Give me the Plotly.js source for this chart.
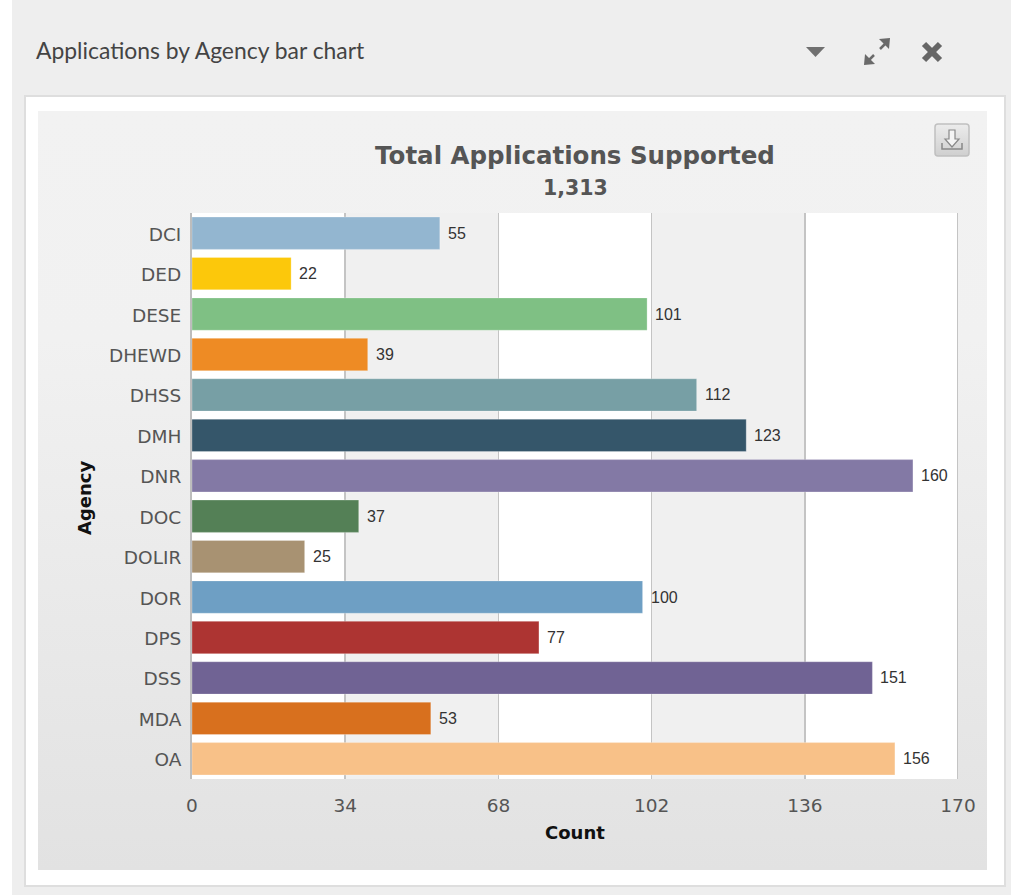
<!DOCTYPE html>
<html>
<head>
<meta charset="utf-8">
<script src="https://cdn.plot.ly/plotly-3.0.1.min.js"></script>
<style>
html,body{margin:0;padding:0;width:1011px;height:895px;overflow:hidden;background:#fff}
.abs{position:absolute}
#page{left:12px;top:0;width:999px;height:895px;background:#eeeeee}
#panel{left:24px;top:95px;width:978px;height:788px;background:#fff;border:2px solid #dedede;box-sizing:content-box}
#inner{left:38px;top:111px;width:949px;height:759px;background:linear-gradient(#f2f2f2,#f1f1f1 30%,#e2e2e2)}
#head{left:36px;top:37px;font:22.9px/26px Lato,sans-serif;color:#444;letter-spacing:0}
#chart{left:0;top:0;width:1011px;height:895px}
</style>
</head>
<body>
<div class="abs" id="page"></div>
<div class="abs" id="panel"></div>
<div class="abs" id="inner"></div>
<div class="abs" id="head">Applications by Agency bar chart</div>
<svg class="abs" style="left:800px;top:30px" width="160" height="45" viewBox="0 0 160 45">
  <polygon points="6,17 25,17 15.500,27" fill="#707070"/>
  <g stroke="#6a6a6a" stroke-width="2.500" fill="none"><line x1="68" y1="31" x2="74" y2="25"/><line x1="80" y1="19" x2="86" y2="13"/></g>
  <polygon points="64,35 65,24 75,34" fill="#6a6a6a"/>
  <polygon points="90,8 89,19 79,9" fill="#6a6a6a"/>
  <g stroke="#666" stroke-width="6"><line x1="124" y1="14" x2="140" y2="30"/><line x1="140" y1="14" x2="124" y2="30"/></g>
</svg>
<div class="abs" id="chart"></div>
<svg class="abs" style="left:933px;top:122px" width="38" height="36" viewBox="0 0 38 36">
  <defs><linearGradient id="b" x1="0" y1="0" x2="0" y2="1"><stop offset="0" stop-color="#ececec"/><stop offset="1" stop-color="#cfcfcf"/></linearGradient></defs>
  <rect x="2" y="2" width="34" height="32" rx="3" fill="url(#b)" stroke="#c0c0c0" stroke-width="1.500"/>
  <path d="M16 8h6v9h4l-7 8-7-8h4z" fill="#f4f4f4" stroke="#888" stroke-width="1.200"/>
  <path d="M9 21v6h20v-6" fill="none" stroke="#888" stroke-width="1.500"/>
</svg>
<script>
var agencies = ["DCI","DED","DESE","DHEWD","DHSS","DMH","DNR","DOC","DOLIR","DOR","DPS","DSS","MDA","OA"];
var counts = [55,22,101,39,112,123,160,37,25,100,77,151,53,156];
var barColors = ["#93b6d0","#fcc80b","#7fc084","#ee8b24","#779fa5","#35566a","#8379a5","#548056","#a89272","#6e9fc4","#ad3432","#706394","#d8701e","#f8c188"];
var xTicks = [0,34,68,102,136,170];
var bandStarts = [34,102];
var bandWidth = 34;
var axisMax = 170;

var W = 1011, H = 895, L = 192, R = 958, T = 213, B = 779;
var shapes = bandStarts.map(function(s){
  return {type:"rect",layer:"below",xref:"x",yref:"paper",x0:s,x1:s+bandWidth,y0:0,y1:1,fillcolor:"#f0f0f0",line:{width:0}};
});
shapes.push({type:"line",layer:"above",xref:"x",yref:"paper",x0:axisMax,x1:axisMax,y0:0,y1:1,line:{color:"#c4c4c4",width:2}});
var FONT = "'DejaVu Sans',Verdana,sans-serif";
var LABEL = "'Liberation Sans',Arial,sans-serif";
var trace = {
  type:"bar",orientation:"h",y:agencies,x:counts,
  marker:{color:barColors,line:{color:"rgba(255,255,255,0.25)",width:1}},
  textposition:"none",hoverinfo:"y+x"
};
var valueNotes = agencies.map(function(a,i){
  return {xref:"x",yref:"y",x:counts[i],y:a,xanchor:"left",yanchor:"middle",xshift:6,yshift:0,showarrow:false,
    text:String(counts[i]),font:{family:LABEL,size:16,color:"#333"}};
});
var layout = {
  width:W,height:H,showlegend:false,
  paper_bgcolor:"rgba(0,0,0,0)",plot_bgcolor:"#ffffff",
  margin:{l:L,r:W-R,t:T,b:H-B,pad:0},
  bargap:0.2,shapes:shapes,
  font:{family:FONT,color:"#555"},
  title:{text:"<b>Total Applications Supported</b>",font:{family:FONT,size:24.500,color:"#555"},x:(L+R)/2/W,xanchor:"center",y:1-155/H,yanchor:"middle"},
  xaxis:{range:[0,axisMax],tickmode:"array",tickvals:xTicks,ticktext:xTicks.map(String),showgrid:true,gridcolor:"#c4c4c4",gridwidth:1.500,zeroline:false,showline:false,ticks:"outside",ticklen:10,tickcolor:"rgba(0,0,0,0)",tickfont:{family:FONT,size:18.500,color:"#555"}},
  yaxis:{type:"category",categoryorder:"array",categoryarray:agencies,autorange:"reversed",showgrid:false,zeroline:false,showline:true,linecolor:"#bdbdbd",linewidth:2,ticks:"outside",ticklen:5,tickcolor:"rgba(0,0,0,0)",ticklabelshift:-1,tickfont:{family:FONT,size:18.500,color:"#555"}},
  annotations:valueNotes.concat([
    {xref:"paper",yref:"paper",x:0.5,y:1+(T-188)/(B-T),xanchor:"center",yanchor:"middle",showarrow:false,text:"<b>1,313</b>",font:{family:FONT,size:20.500,color:"#555"}},
    {xref:"paper",yref:"paper",x:(84-L)/(R-L),y:(B-497)/(B-T),xanchor:"center",yanchor:"middle",showarrow:false,textangle:-90,text:"<b>Agency</b>",font:{family:FONT,size:18,color:"#111"}},
    {xref:"paper",yref:"paper",x:0.5,y:(B-832)/(B-T),xanchor:"center",yanchor:"middle",showarrow:false,text:"<b>Count</b>",font:{family:FONT,size:18,color:"#111"}}
  ])
};
Plotly.newPlot("chart",[trace],layout,{displayModeBar:false,staticPlot:true});
</script>
</body>
</html>
